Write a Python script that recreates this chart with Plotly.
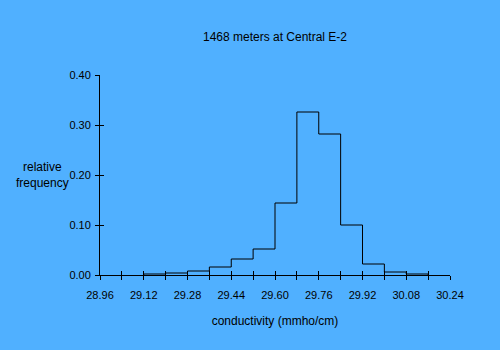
import plotly.graph_objects as go

bin_edges = [29.12, 29.20, 29.28, 29.36, 29.44, 29.52, 29.60, 29.68, 29.76, 29.84, 29.92, 30.00, 30.08, 30.16]
rel_freq = [0.002, 0.004, 0.008, 0.016, 0.032, 0.052, 0.144, 0.326, 0.282, 0.100, 0.022, 0.006, 0.002]
x_ticks = [28.96, 29.12, 29.28, 29.44, 29.60, 29.76, 29.92, 30.08, 30.24]
x_tick_text = ["28.96", "29.12", "29.28", "29.44", "29.60", "29.76", "29.92", "30.08", "30.24"]
y_ticks = [0.0, 0.1, 0.2, 0.3, 0.4]
y_tick_text = ["0.00", "0.10", "0.20", "0.30", "0.40"]

BG = "#50b0ff"
FONT = dict(family="Liberation Sans, Arial, sans-serif", size=11, color="black")

# step outline of the histogram
px, py = [bin_edges[0]], [0]
for i, h in enumerate(rel_freq):
    px += [bin_edges[i], bin_edges[i + 1]]
    py += [h, h]
px.append(bin_edges[-1]); py.append(0)

fig = go.Figure()
fig.add_trace(go.Scatter(x=px, y=py, mode="lines", line=dict(color="black", width=1),
                         hoverinfo="skip", showlegend=False))
fig.add_trace(go.Scatter(x=[x_ticks[0]], y=[0], xaxis="x2", yaxis="y2", mode="markers",
                         marker=dict(opacity=0), showlegend=False, hoverinfo="skip"))

# minor ticks halfway between labelled ticks
minor_x = []
for a, b in zip(x_ticks[:-1], x_ticks[1:]):
    minor_x += [a, (a + b) / 2]
minor_x.append(x_ticks[-1])
minor_text = []
for v in minor_x:
    match = [t for xv, t in zip(x_ticks, x_tick_text) if abs(xv - v) < 1e-9]
    minor_text.append(match[0] if match else "")

axis_common = dict(showgrid=False, zeroline=False, showline=True, linecolor="black",
                   linewidth=1, ticks="outside", ticklen=4, tickcolor="black", tickwidth=1,
                   tickfont=FONT)

fig.update_layout(
    width=500, height=350,
    paper_bgcolor=BG, plot_bgcolor=BG,
    margin=dict(l=100, r=50, t=75, b=75),
    font=FONT,
    title=dict(text="1468 meters at Central E-2", x=0.55, xanchor="center", y=1 - 37 / 350,
               yanchor="middle", font=dict(size=12, family=FONT["family"], color="black")),
    xaxis=dict(range=[x_ticks[0], x_ticks[-1]], tickmode="array", tickvals=minor_x,
               ticktext=minor_text, **axis_common, ticklabelstandoff=6,
               title=dict(text="conductivity (mmho/cm)", standoff=16, font=dict(size=12))),
    yaxis=dict(range=[0, 0.4], tickmode="array", tickvals=y_ticks, ticktext=y_tick_text,
               **axis_common, ticklabelstandoff=2),
    xaxis2=dict(range=[x_ticks[0], x_ticks[-1]], overlaying="x", tickmode="array", tickvals=minor_x,
                showticklabels=False, showgrid=False, zeroline=False, showline=False,
                ticks="inside", ticklen=4, tickcolor="black", anchor="y2", side="bottom"),
    yaxis2=dict(range=[0, 0.4], overlaying="y", tickmode="array", tickvals=y_ticks,
                showticklabels=False, showgrid=False, zeroline=False, showline=False,
                ticks="inside", ticklen=4, tickcolor="black", anchor="x2", side="left"),
    annotations=[dict(text="relative<br>frequency", x=(42 - 100) / 350, y=(275 - 175) / 200,
                      xref="paper", yref="paper", xanchor="center", yanchor="middle",
                      showarrow=False, font=dict(size=12))],
)

fig.write_html("out.html")
